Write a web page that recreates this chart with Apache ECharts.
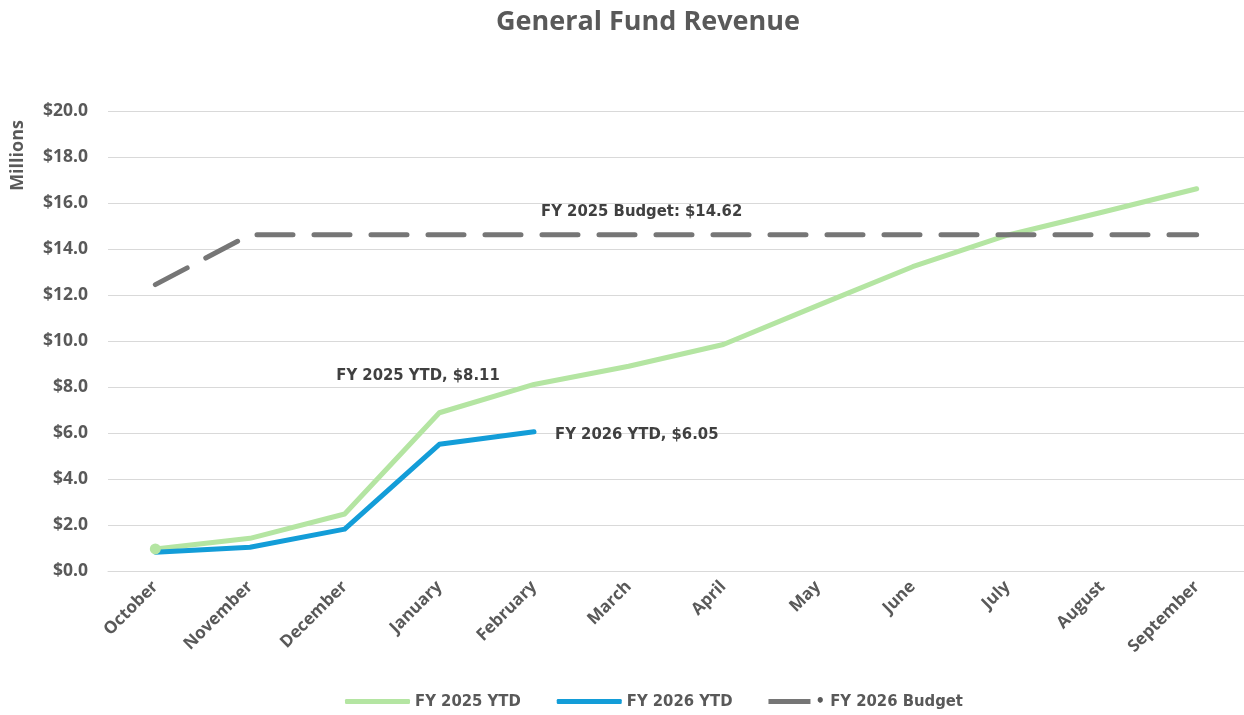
<!DOCTYPE html>
<html>
<head>
<meta charset="utf-8">
<script src="https://cdn.jsdelivr.net/npm/echarts@6/dist/echarts.min.js"></script>
<style>
  html, body { margin: 0; padding: 0; background: #fff; }
  #main { width: 1244px; height: 715px; }
</style>
</head>
<body>
<div id="main"></div>
<script>
var chartDom = document.getElementById('main');
var myChart = echarts.init(chartDom);

// months of the fiscal year
const months = ['October', 'November', 'December', 'January', 'February', 'March',
  'April', 'May', 'June', 'July', 'August', 'September'];

// cumulative revenue, millions
const fy2025Ytd = [0.96, 1.42, 2.48, 6.88, 8.11, 8.9, 9.85, 11.55, 13.23, 14.6, 15.6, 16.62];
const fy2026Ytd = [0.82, 1.03, 1.82, 5.51, 6.05];
const fy2026Budget = [12.45, 14.62, 14.62, 14.62, 14.62, 14.62, 14.62, 14.62, 14.62, 14.62, 14.62, 14.62];

const axisFont = '"Open Sans", Roboto, sans-serif';
const narrowFont = '"Liberation Sans Narrow", "DejaVu Sans Condensed", sans-serif';
const textGray = '#595959';

const greenData = fy2025Ytd.map(function (v, i) {
  var item = { value: v };
  if (i === 0) {
    item.symbolSize = 11;
  }
  if (i === 4) {
    item.label = {
      show: true, position: 'top', offset: [-116, 5],
      formatter: function (p) { return 'FY 2025 YTD, $' + p.value.toFixed(2); }
    };
  }
  return item;
});

const blueData = fy2026Ytd.map(function (v, i) {
  var item = { value: v };
  if (i === fy2026Ytd.length - 1) {
    item.label = {
      show: true, position: 'right', distance: 21, offset: [0, 3],
      formatter: function (p) { return 'FY 2026 YTD, $' + p.value.toFixed(2); }
    };
  }
  return item;
});

const budgetData = fy2026Budget.map(function (v, i) {
  var item = { value: v };
  if (i === 5) {
    item.label = {
      show: true, position: 'top', offset: [13, -10],
      formatter: function (p) { return 'FY 2025 Budget: $' + p.value.toFixed(2); }
    };
  }
  return item;
});

const labelStyle = {
  show: false,
  fontFamily: narrowFont,
  fontWeight: 'bold',
  fontSize: 16.5,
  color: '#404040'
};

var option = {
  animation: false,
  title: {
    text: 'General Fund Revenue',
    left: 491,
    top: 4,
    textStyle: { fontFamily: axisFont, fontWeight: 'bold', fontSize: 27, color: textGray }
  },
  grid: { left: 108, width: 1142, top: 111, height: 460 },
  legend: {
    top: 688,
    left: 340,
    itemWidth: 65,
    itemHeight: 5,
    itemGap: 36,
    textStyle: { fontFamily: narrowFont, fontWeight: 'bold', fontSize: 16.5, color: textGray },
    data: [
      { name: 'FY 2025 YTD', icon: 'roundRect' },
      { name: 'FY 2026 YTD', icon: 'roundRect' },
      {
        name: '• FY 2026 Budget',
        icon: 'path://M0,0H42V5H0Z M64.8,2.4H65V2.6H64.8Z',
        textStyle: { padding: [0, 0, 0, -23] }
      }
    ]
  },
  graphic: [{
    type: 'text',
    left: 9,
    top: 120,
    rotation: Math.PI / 2,
    style: {
      text: 'Millions',
      fontFamily: axisFont,
      fontWeight: 'bold',
      fontSize: 18,
      fill: textGray
    }
  }],
  xAxis: {
    type: 'category',
    data: months,
    axisTick: { show: false },
    axisLine: { lineStyle: { color: '#d9d9d9', width: 1 } },
    axisLabel: {
      rotate: 45,
      margin: 13,
      fontFamily: axisFont,
      fontWeight: 'bold',
      fontSize: 17,
      color: textGray
    }
  },
  yAxis: {
    type: 'value',
    min: 0,
    max: 20,
    interval: 2,
    axisLine: { show: false },
    axisTick: { show: false },
    splitLine: { lineStyle: { color: '#d9d9d9', width: 1 } },
    axisLabel: {
      margin: 20,
      fontFamily: axisFont,
      fontWeight: 'bold',
      fontSize: 17.5,
      color: textGray,
      formatter: function (v) { return '$' + v.toFixed(1); }
    }
  },
  series: [
    {
      name: 'FY 2025 YTD',
      type: 'line',
      data: greenData,
      symbol: 'circle',
      symbolSize: 0,
      itemStyle: { color: '#b4e5a2' },
      lineStyle: { color: '#b4e5a2', width: 5, cap: 'round', join: 'round' },
      label: labelStyle
    },
    {
      name: 'FY 2026 YTD',
      type: 'line',
      data: blueData,
      symbol: 'circle',
      symbolSize: 0,
      itemStyle: { color: '#139dd8' },
      lineStyle: { color: '#139dd8', width: 5, cap: 'round', join: 'round' },
      label: labelStyle
    },
    {
      name: '• FY 2026 Budget',
      type: 'line',
      data: budgetData,
      symbol: 'circle',
      symbolSize: 0,
      itemStyle: { color: '#767676' },
      lineStyle: { color: '#767676', width: 5, type: [36, 21], cap: 'round' },
      label: labelStyle
    }
  ]
};

myChart.setOption(option);
</script>
</body>
</html>
